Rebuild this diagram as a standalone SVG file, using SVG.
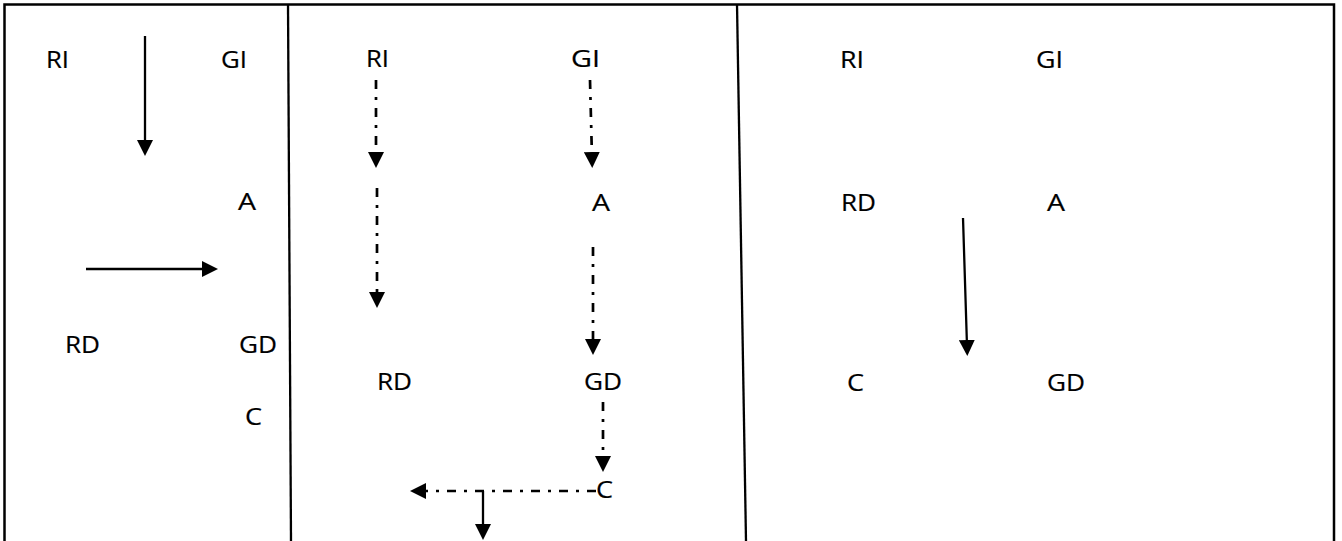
<svg xmlns="http://www.w3.org/2000/svg" width="1342" height="541" viewBox="0 0 1342 541">
<style>
text{font-family:"Open Sans","Liberation Sans",sans-serif;font-size:23.5px;fill:#000;stroke:#000;stroke-width:0.2}
.frame{stroke:#000;stroke-width:2.5;fill:none}
.solid{stroke:#000;stroke-width:2.3;fill:none}
.dash{stroke:#000;stroke-width:2.7;fill:none;stroke-dasharray:9 8 3 8}
</style>
<defs>
<marker id="ah" markerUnits="userSpaceOnUse" viewBox="0 0 16 16" markerWidth="16" markerHeight="16" refX="6" refY="8" orient="auto">
<path d="M0,0 L16,8 L0,16 Z" fill="#000"/>
</marker>
</defs>
<rect x="0" y="0" width="1342" height="541" fill="#fff"/>
<g id="frame">
<path class="frame" d="M4.5,541 V4.5 H1334 V541"/>
<line class="solid" x1="288" y1="4" x2="291" y2="541"/>
<line class="solid" x1="737" y1="4" x2="746" y2="541"/>
</g>
<g id="panel1">
<g id="p1-RI"><text x="46" y="68" textLength="23" lengthAdjust="spacingAndGlyphs">RI</text></g>
<g id="p1-GI"><text x="221" y="68" textLength="26" lengthAdjust="spacingAndGlyphs">GI</text></g>
<g id="p1-A"><text x="238" y="210" textLength="18" lengthAdjust="spacingAndGlyphs">A</text></g>
<g id="p1-RD"><text x="65" y="353" textLength="35" lengthAdjust="spacingAndGlyphs">RD</text></g>
<g id="p1-GD"><text x="239" y="353" textLength="38" lengthAdjust="spacingAndGlyphs">GD</text></g>
<g id="p1-C"><text x="245" y="425" textLength="17" lengthAdjust="spacingAndGlyphs">C</text></g>
</g>
<g id="panel2">
<g id="p2-RI"><text x="366" y="67" textLength="23" lengthAdjust="spacingAndGlyphs">RI</text></g>
<g id="p2-GI"><text x="571" y="67" textLength="29" lengthAdjust="spacingAndGlyphs">GI</text></g>
<g id="p2-A"><text x="592" y="211" textLength="18" lengthAdjust="spacingAndGlyphs">A</text></g>
<g id="p2-RD"><text x="377" y="390" textLength="35" lengthAdjust="spacingAndGlyphs">RD</text></g>
<g id="p2-GD"><text x="584" y="390" textLength="38" lengthAdjust="spacingAndGlyphs">GD</text></g>
<g id="p2-C"><text x="596" y="498" textLength="17" lengthAdjust="spacingAndGlyphs">C</text></g>
</g>
<g id="panel3">
<g id="p3-RI"><text x="840" y="68" textLength="24" lengthAdjust="spacingAndGlyphs">RI</text></g>
<g id="p3-GI"><text x="1036" y="68" textLength="27" lengthAdjust="spacingAndGlyphs">GI</text></g>
<g id="p3-RD"><text x="841" y="211" textLength="35" lengthAdjust="spacingAndGlyphs">RD</text></g>
<g id="p3-A"><text x="1047" y="211" textLength="18" lengthAdjust="spacingAndGlyphs">A</text></g>
<g id="p3-C"><text x="847" y="391" textLength="17" lengthAdjust="spacingAndGlyphs">C</text></g>
<g id="p3-GD"><text x="1047" y="391" textLength="38" lengthAdjust="spacingAndGlyphs">GD</text></g>
</g>
<g id="connectors">
<line class="solid" x1="145" y1="36" x2="145" y2="146" marker-end="url(#ah)"/>
<line class="solid" x1="86" y1="269" x2="208" y2="269" marker-end="url(#ah)"/>
<line class="dash" x1="376" y1="80" x2="376" y2="158" marker-end="url(#ah)"/>
<line class="dash" x1="590" y1="80" x2="592" y2="158" marker-end="url(#ah)"/>
<line class="dash" x1="377" y1="188" x2="377" y2="298" marker-end="url(#ah)"/>
<line class="dash" x1="593" y1="247" x2="593" y2="345" marker-end="url(#ah)"/>
<line class="dash" x1="603" y1="402" x2="603" y2="462" marker-end="url(#ah)"/>
<line class="dash" x1="596" y1="491" x2="420" y2="491" marker-end="url(#ah)"/>
<line class="solid" x1="483" y1="491" x2="483" y2="530" marker-end="url(#ah)"/>
<line class="solid" x1="963" y1="218" x2="967" y2="346" marker-end="url(#ah)"/>
</g>
</svg>
